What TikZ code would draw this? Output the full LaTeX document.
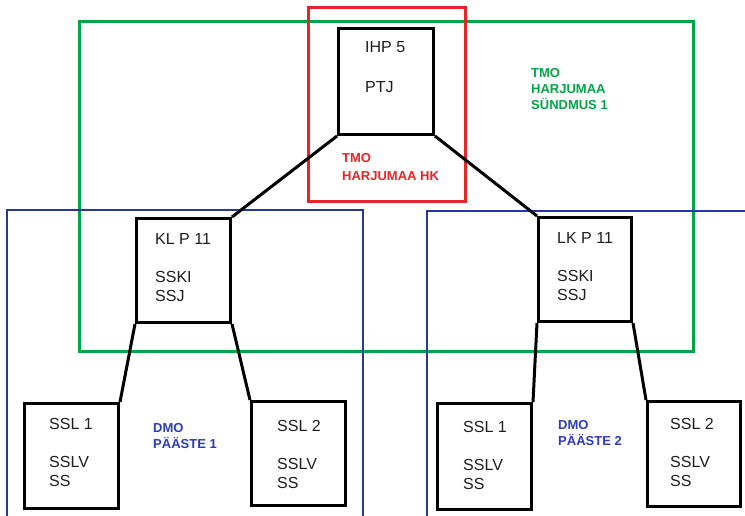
\documentclass[tikz,border=0pt]{standalone}
\usepackage{fontspec}
\setmainfont{Liberation Sans}
\definecolor{tmogreen}{RGB}{0,165,70}
\definecolor{tmored}{RGB}{235,35,40}
\definecolor{dmoblue}{RGB}{40,55,160}
\definecolor{lblblue}{RGB}{45,60,180}
\definecolor{txtgray}{RGB}{30,30,30}
\tikzset{
  unitbox/.style={draw=black, line width=3pt, inner sep=0pt, anchor=north west},
  conn/.style={draw=black, line width=3pt},
  boxtxt/.style={inner sep=0pt, anchor=north west, align=left, text=txtgray,
    font=\fontsize{16pt}{19pt}\selectfont},
  lbl/.style={inner sep=0pt, anchor=north west, align=left,
    font=\fontsize{13pt}{16pt}\selectfont\bfseries},
  frame/.style={inner sep=0pt, anchor=north west},
}
\begin{document}
\begin{tikzpicture}[x=1pt,y=-1pt]
\useasboundingbox[fill=white] (0,0) rectangle (745,515);
% colored frames
\node[frame, draw=tmogreen, line width=3pt, minimum width=614pt, minimum height=330pt] (ev) at (78,20) {};
\draw[dmoblue, line width=2pt] (363,516) -- (363,210) -- (7,210) -- (7,516);
\draw[dmoblue, line width=2pt] (746,211) -- (427,211) -- (427,516);
\node[frame, draw=tmored, line width=2.5pt, minimum width=157pt, minimum height=194pt] (hk) at (307,6) {};
% boxes
\node[unitbox, minimum width=95pt, minimum height=106pt] (ihp) at (337,27) {};
\node[unitbox, minimum width=94pt, minimum height=104pt] (kl) at (135,217) {};
\node[unitbox, minimum width=93pt, minimum height=104pt] (lk) at (537,216) {};
\node[unitbox, minimum width=94pt, minimum height=105pt] (s1l) at (23,402) {};
\node[unitbox, minimum width=94pt, minimum height=104pt] (s2l) at (250,400) {};
\node[unitbox, minimum width=94pt, minimum height=106pt] (s1r) at (436,402) {};
\node[unitbox, minimum width=93pt, minimum height=105pt] (s2r) at (646,400) {};
% connectors
\draw[conn] (ihp.south west) -- (kl.north east);
\draw[conn] (ihp.south east) -- (lk.north west);
\draw[conn] (kl.south west) -- (s1l.north east);
\draw[conn] (kl.south east) -- (s2l.north west);
\draw[conn] (lk.south west) -- (s1r.north east);
\draw[conn] (lk.south east) -- (s2r.north west);
% box texts
\node[boxtxt] (ihpt) at (365,41) {IHP 5\\[21pt]PTJ};
\node[boxtxt] (klt) at (155,233) {KL P 11\\[19pt]SSKI\\SSJ};
\node[boxtxt] (lkt) at (557,232) {LK P 11\\[19pt]SSKI\\SSJ};
\node[boxtxt] (s1lt) at (49,418) {SSL 1\\[19pt]SSLV\\SS};
\node[boxtxt] (s2lt) at (277,420) {SSL 2\\[19pt]SSLV\\SS};
\node[boxtxt] (s1rt) at (463,421) {SSL 1\\[19pt]SSLV\\SS};
\node[boxtxt] (s2rt) at (670,418) {SSL 2\\[19pt]SSLV\\SS};
% labels
\node[lbl, text=tmored, font=\fontsize{13pt}{18pt}\selectfont\bfseries] (hkl) at (342,153) {TMO\\HARJUMAA HK};
\node[lbl, text=tmogreen] (evl) at (531,68) {TMO\\HARJUMAA\\SÜNDMUS 1};
\node[lbl, text=lblblue] (d1) at (153,423) {DMO\\PÄÄSTE 1};
\node[lbl, text=lblblue] (d2) at (558,420) {DMO\\PÄÄSTE 2};
\end{tikzpicture}
\end{document}
